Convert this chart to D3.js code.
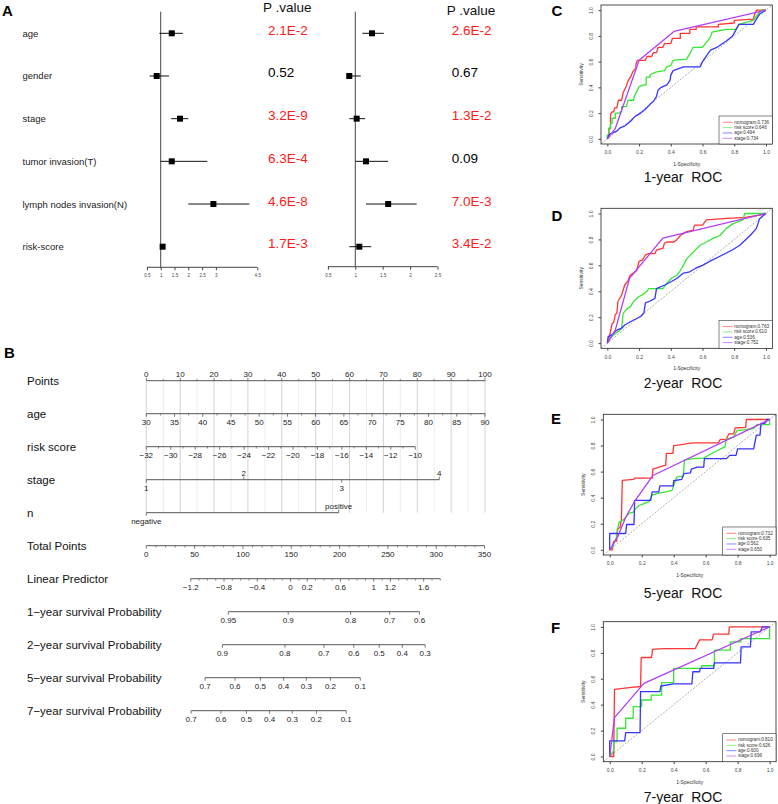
<!DOCTYPE html>
<html><head><meta charset="utf-8">
<script src="https://cdn.jsdelivr.net/npm/d3@7"></script>
<style>
body{margin:0;background:#fff}
text{font-family:"Liberation Sans",Arial,sans-serif}
</style></head>
<body><svg id="c" width="778" height="804"></svg>
<script>
// ---------------- DATA ----------------
// Panel A: forest plots
const forestVars = ["age","gender","stage","tumor invasion(T)","lymph nodes invasion(N)","risk-score"];
const uniHR = [1.40,0.855,1.70,1.40,2.91,1.07];
const uniLo = [0.95,0.60,1.38,1.00,2.00,1.00];
const uniHi = [1.80,1.30,2.00,2.69,4.21,1.13];
const uniP  = ["2.1E-2","0.52","3.2E-9","6.3E-4","4.6E-8","1.7E-3"];
const multiHR = [1.305,0.89,1.025,1.195,1.60,1.073];
const multiLo = [1.128,0.84,0.89,1.00,1.195,0.89];
const multiHi = [1.52,1.10,1.18,1.60,2.12,1.29];
const multiP  = ["2.6E-2","0.67","1.3E-2","0.09","7.0E-3","3.4E-2"];
const uniTicks = [0.5,1,1.5,2,2.5,3,4.5];
const multiTicks = [0.5,1,1.5,2,2.5];

// Panel B: nomogram
const nomoRows = ["Points","age","risk score","stage","n","Total Points","Linear Predictor",
  "1\u2212year survival Probability","2\u2212year survival Probability",
  "5\u2212year survival Probability","7\u2212year survival Probability"];
const pointTicks = d3.range(0,101,10);
const ageTicks = d3.range(30,91,5);
const ageRange = [30,90];                // age 30 -> 0 pts, 90 -> 100 pts
const riskTicks = d3.range(-32,-9,2);
const riskRange = [-32,-10];
const riskMaxPoints = 79.4;
const stageLevels = ["1","2","3","4"];
const stagePoints = [0,28.8,57.7,86.5];
const nLevels = ["negative","positive"];
const nPoints = [0,56.8];
const totalTicks = d3.range(0,351,50);
const lpTicks = [-1.2,-0.8,-0.4,0,0.2,0.6,1,1.2,1.6];
const lpRange = [-1.2,1.8];
const lpIntercept = 149.3;   // total points at linear predictor 0
const lpSlope = 86.1;        // total points per unit of linear predictor
const survTicks = [[0.95,0.9,0.8,0.7,0.6],[0.9,0.8,0.7,0.6,0.5,0.4,0.3],
                   [0.7,0.6,0.5,0.4,0.3,0.2,0.1],[0.7,0.6,0.5,0.4,0.3,0.2,0.1]];
const survLogCumHaz0 = [-2.222,-1.432,-0.004,0.165]; // log(-log S0(t))

// Panels C-F: ROC curves [1-specificity, sensitivity]
const rocSeries = ["nomogram","risk score","age","stage"];
const rocC_nomogram = [[0,0],[0.01,0.02],[0.01,0.08],[0.02,0.08],[0.02,0.19],[0.03,0.21],[0.04,0.21],[0.045,0.24],[0.06,0.24],[0.07,0.3],[0.09,0.3],[0.1,0.36],[0.12,0.41],[0.13,0.45],[0.15,0.49],[0.16,0.52],[0.18,0.55],[0.18,0.58],[0.19,0.61],[0.24,0.61],[0.25,0.64],[0.28,0.64],[0.29,0.67],[0.31,0.67],[0.32,0.71],[0.35,0.71],[0.36,0.74],[0.4,0.74],[0.41,0.78],[0.46,0.78],[0.46,0.82],[0.52,0.82],[0.52,0.85],[0.56,0.85],[0.56,0.87],[0.7,0.87],[0.7,0.89],[0.8,0.9],[0.8,0.92],[0.92,0.93],[0.93,0.97],[0.94,1],[1,1]];
const rocC_risk = [[0,0],[0,0.03],[0.01,0.03],[0.01,0.085],[0.02,0.085],[0.02,0.12],[0.03,0.12],[0.03,0.16],[0.05,0.16],[0.05,0.2],[0.08,0.2],[0.08,0.21],[0.09,0.21],[0.09,0.25],[0.12,0.25],[0.13,0.3],[0.165,0.3],[0.17,0.33],[0.19,0.38],[0.2,0.405],[0.23,0.42],[0.245,0.42],[0.245,0.48],[0.27,0.48],[0.27,0.5],[0.31,0.52],[0.36,0.53],[0.375,0.56],[0.4,0.57],[0.415,0.61],[0.5,0.62],[0.52,0.66],[0.54,0.71],[0.6,0.71],[0.65,0.79],[0.66,0.83],[0.75,0.85],[0.81,0.85],[0.83,0.89],[0.92,0.92],[0.95,0.97],[0.97,1],[1,1]];
const rocC_age = [[0,0],[0.01,0.03],[0.02,0.04],[0.06,0.06],[0.08,0.085],[0.11,0.1],[0.145,0.135],[0.175,0.175],[0.21,0.2],[0.24,0.23],[0.27,0.27],[0.29,0.29],[0.31,0.33],[0.32,0.38],[0.34,0.4],[0.375,0.42],[0.395,0.455],[0.4,0.495],[0.415,0.53],[0.48,0.56],[0.585,0.56],[0.6,0.6],[0.65,0.69],[0.69,0.71],[0.75,0.76],[0.79,0.8],[0.83,0.89],[0.92,0.89],[0.94,0.93],[0.96,0.97],[1,1]];
const rocC_stage = [[0,0],[0.05,0.08],[0.2,0.61],[0.42,0.835],[1,1]];
const rocD_nomogram = [[0,0],[0.01,0.04],[0.02,0.09],[0.03,0.15],[0.04,0.16],[0.05,0.22],[0.06,0.23],[0.067,0.325],[0.08,0.35],[0.09,0.37],[0.1,0.41],[0.11,0.45],[0.13,0.48],[0.145,0.525],[0.165,0.54],[0.185,0.56],[0.2,0.63],[0.22,0.64],[0.24,0.68],[0.26,0.69],[0.3,0.69],[0.31,0.72],[0.35,0.73],[0.36,0.77],[0.375,0.78],[0.42,0.78],[0.44,0.8],[0.46,0.83],[0.5,0.86],[0.54,0.87],[0.55,0.91],[0.6,0.91],[0.625,0.95],[0.73,0.96],[0.87,0.97],[0.97,0.99],[1,1]];
const rocD_risk = [[0,0],[0.01,0.03],[0.04,0.065],[0.07,0.09],[0.09,0.115],[0.1,0.23],[0.12,0.26],[0.145,0.28],[0.165,0.32],[0.2,0.36],[0.23,0.38],[0.25,0.4],[0.26,0.42],[0.35,0.42],[0.375,0.46],[0.405,0.5],[0.44,0.525],[0.46,0.56],[0.48,0.6],[0.5,0.65],[0.54,0.7],[0.585,0.755],[0.625,0.78],[0.67,0.81],[0.71,0.83],[0.75,0.885],[0.79,0.92],[0.855,0.95],[0.866,1],[1,1]];
const rocD_age = [[0,0],[0.005,0.05],[0.03,0.065],[0.06,0.1],[0.09,0.115],[0.11,0.14],[0.145,0.165],[0.185,0.19],[0.21,0.205],[0.23,0.23],[0.24,0.31],[0.27,0.325],[0.3,0.345],[0.31,0.42],[0.365,0.45],[0.405,0.475],[0.44,0.5],[0.48,0.54],[0.52,0.55],[0.56,0.58],[0.6,0.6],[0.645,0.63],[0.71,0.67],[0.79,0.72],[0.835,0.755],[0.9,0.83],[0.94,0.885],[0.96,0.96],[1,1]];
const rocD_stage = [[0,0],[0.05,0.1],[0.14,0.5],[0.35,0.81],[1,1]];
const rocE_nomogram = [[0,0],[0.017,0],[0.023,0.06],[0.044,0.066],[0.048,0.16],[0.064,0.17],[0.073,0.23],[0.079,0.533],[0.15,0.54],[0.155,0.55],[0.266,0.55],[0.27,0.62],[0.31,0.635],[0.35,0.65],[0.355,0.74],[0.395,0.74],[0.4,0.8],[0.44,0.806],[0.485,0.815],[0.526,0.82],[0.68,0.82],[0.69,0.845],[0.73,0.85],[0.745,0.89],[0.775,0.89],[0.785,0.935],[0.85,0.94],[0.855,1],[1,1]];
const rocE_risk = [[0,0],[0.017,0.02],[0.03,0.06],[0.044,0.1],[0.058,0.21],[0.085,0.23],[0.1,0.25],[0.12,0.28],[0.148,0.29],[0.162,0.316],[0.183,0.34],[0.214,0.355],[0.245,0.37],[0.266,0.42],[0.287,0.43],[0.35,0.444],[0.39,0.456],[0.42,0.56],[0.46,0.566],[0.468,0.69],[0.526,0.7],[0.588,0.704],[0.61,0.72],[0.67,0.76],[0.72,0.79],[0.73,0.85],[0.775,0.865],[0.796,0.915],[0.9,0.93],[0.92,0.96],[1,0.96],[1,1]];
const rocE_age = [[0,0],[0,0.125],[0.1,0.125],[0.106,0.194],[0.152,0.194],[0.156,0.38],[0.256,0.38],[0.266,0.444],[0.307,0.444],[0.314,0.49],[0.397,0.49],[0.4,0.53],[0.45,0.54],[0.464,0.584],[0.505,0.59],[0.51,0.62],[0.547,0.635],[0.588,0.635],[0.592,0.7],[0.73,0.7],[0.75,0.725],[0.79,0.725],[0.8,0.775],[0.9,0.775],[0.917,0.88],[0.94,0.88],[0.946,0.97],[0.97,0.97],[0.983,1],[1,1]];
const rocE_stage = [[0,0],[0.05,0.1],[0.1,0.25],[0.16,0.38],[0.27,0.57],[1,1]];
const rocF_nomogram = [[0,0],[0.025,0],[0.03,0.518],[0.136,0.533],[0.193,0.54],[0.197,0.764],[0.262,0.764],[0.268,0.826],[0.335,0.833],[0.535,0.833],[0.562,0.9],[0.64,0.9],[0.65,0.944],[0.745,0.944],[0.748,1],[1,1]];
const rocF_risk = [[0,0],[0.025,0.046],[0.025,0.115],[0.046,0.115],[0.046,0.218],[0.1,0.218],[0.1,0.295],[0.147,0.295],[0.147,0.385],[0.2,0.385],[0.2,0.436],[0.26,0.436],[0.26,0.474],[0.325,0.474],[0.325,0.57],[0.4,0.57],[0.4,0.68],[0.575,0.68],[0.575,0.7],[0.655,0.7],[0.655,0.82],[0.755,0.82],[0.755,0.885],[0.82,0.885],[0.82,0.91],[1,0.91],[1,1]];
const rocF_age = [[0,0],[0,0.12],[0.094,0.12],[0.1,0.185],[0.19,0.185],[0.193,0.5],[0.314,0.5],[0.32,0.544],[0.4,0.56],[0.514,0.56],[0.52,0.654],[0.562,0.654],[0.566,0.68],[0.65,0.68],[0.654,0.723],[0.818,0.723],[0.822,0.846],[0.88,0.846],[0.885,0.962],[0.943,0.962],[0.954,1],[1,1]];
const rocF_stage = [[0,0],[0.03,0.3],[0.214,0.564],[1,1]];
const aucC = ["0.736","0.646","0.494","0.734"];
const aucD = ["0.763","0.610","0.536","0.752"];
const aucE = ["0.732","0.635","0.562","0.650"];
const aucF = ["0.810","0.626","0.600","0.696"];
const rocTitles = ["1-year  ROC","2-year  ROC","5-year  ROC","7-year  ROC"];
const rocLetters = ["C","D","E","F"];
const rocTicks = [0,0.2,0.4,0.6,0.8,1.0];

// ---------------- DRAW ----------------
const svg = d3.select("#c");
const FONT = '"Liberation Sans",Arial,sans-serif';

function letter(t,x,y){
  svg.append("text").attr("x",x).attr("y",y).attr("dominant-baseline","central")
    .attr("font-size",15).attr("font-weight","bold").attr("fill","#000").text(t);
}

// ---- Panel A ----
letter("A",2,10);
const rowA = d3.scalePoint(forestVars,[33.3,246.7]);
forestVars.forEach(v=>{
  svg.append("text").attr("x",22.5).attr("y",rowA(v)).attr("dominant-baseline","central")
    .attr("font-size",9.5).attr("fill","#222").text(v);
});

function forest(xs, hr, lo, hi, pv, ticks, axisY, pX, headY){
  const g = svg.append("g");
  g.append("line").attr("x1",xs(1)).attr("x2",xs(1)).attr("y1",11.7).attr("y2",axisY)
    .attr("stroke","#444").attr("stroke-width",1);
  const ax = d3.axisBottom(xs).tickValues(ticks).tickSize(3).tickFormat(d=>String(d));
  const ga = g.append("g").attr("transform",`translate(0,${axisY})`).call(ax);
  ga.select(".domain").attr("stroke","#444").attr("d",`M${xs.range()[0]},0H${xs.range()[1]}`);
  ga.selectAll(".tick line").attr("stroke","#444");
  ga.selectAll("text").attr("font-size",4.6).attr("fill","#444").attr("font-family",FONT).attr("dy","0.9em");
  forestVars.forEach((v,i)=>{
    const y = rowA(v);
    g.append("line").attr("x1",xs(lo[i])).attr("x2",xs(hi[i])).attr("y1",y).attr("y2",y)
      .attr("stroke","#111").attr("stroke-width",1);
    g.append("rect").attr("x",xs(hr[i])-3).attr("y",y-3).attr("width",6).attr("height",6).attr("fill","#000");
    const sig = Number(pv[i])<0.05;
    g.append("text").attr("x",pX).attr("y",y-3).attr("dominant-baseline","central")
      .attr("font-size",13.5).attr("fill",sig?"#ff1a1a":"#000").text(pv[i]);
  });
  g.append("text").attr("x",pX-5).attr("y",headY).attr("dominant-baseline","central")
    .attr("font-size",13.5).attr("fill","#111").text("P .value");
}
forest(d3.scaleLinear([0.5,4.5],[146.9,257.3]),uniHR,uniLo,uniHi,uniP,uniTicks,267.3,268,7);
forest(d3.scaleLinear([0.5,2.5],[327.9,437.5]),multiHR,multiLo,multiHi,multiP,multiTicks,266.7,451.7,10);

// ---- Panel B ----
letter("B",4,352);
const ptsX = d3.scaleLinear([0,100],[146.3,485]);
const totX = d3.scaleLinear([0,350],[146.3,484.5]);
const rowY = d3.scaleLinear([0,nomoRows.length-1],[380.7,710.7]);
const gB = svg.append("g");
const lineCol = "#555", txtCol = "#222";

nomoRows.forEach((r,i)=>{
  gB.append("text").attr("x",27).attr("y",rowY(i)).attr("dominant-baseline","central")
    .attr("font-size",11.5).attr("fill","#111").text(r);
});

// vertical grid (every 5 points) from Points row down to n row
d3.range(0,101,5).forEach(p=>{
  gB.append("line").attr("x1",ptsX(p)).attr("x2",ptsX(p)).attr("y1",rowY(0)).attr("y2",rowY(4))
    .attr("stroke",p%10===0?"#d2d2d2":"#ececec").attr("stroke-width",1);
});

const fmt = v => (v<0?"\u2212":"")+String(Math.abs(+v.toFixed(3)));
function scaleRow(i, x0, x1, items, minor){
  const y = rowY(i);
  gB.append("line").attr("x1",x0).attr("x2",x1).attr("y1",y).attr("y2",y)
    .attr("stroke",lineCol).attr("stroke-width",1);
  (minor||[]).forEach(mx=>{
    gB.append("line").attr("x1",mx).attr("x2",mx).attr("y1",y).attr("y2",y+(i===0?-1.8:1.8))
      .attr("stroke",lineCol).attr("stroke-width",0.7);
  });
  items.forEach(it=>{
    const up = it.pos==="above";
    gB.append("line").attr("x1",it.x).attr("x2",it.x).attr("y1",y).attr("y2",y+(up?-3:3))
      .attr("stroke",lineCol).attr("stroke-width",0.8);
    if(it.label!==null)
      gB.append("text").attr("x",it.x).attr("y",up?y-4:y+10.8).attr("text-anchor","middle")
        .attr("font-size",8).attr("fill",txtCol).text(it.label);
  });
}
// Points
scaleRow(0, ptsX(0), ptsX(100), pointTicks.map(p=>({x:ptsX(p),label:String(p),pos:"above"})),
  d3.range(0,101,5).filter(p=>p%10).map(p=>ptsX(p)));
// age
const agePts = a => (a-ageRange[0])/(ageRange[1]-ageRange[0])*100;
scaleRow(1, ptsX(agePts(ageRange[0])), ptsX(agePts(ageRange[1])),
  ageTicks.map(a=>({x:ptsX(agePts(a)),label:String(a),pos:"below"})),
  d3.range(30,91,2.5).filter(a=>a%5).map(a=>ptsX(agePts(a))));
// risk score
const riskPts = r => (r-riskRange[0])/(riskRange[1]-riskRange[0])*riskMaxPoints;
scaleRow(2, ptsX(riskPts(riskRange[0])), ptsX(riskPts(riskRange[1])),
  riskTicks.map(r=>({x:ptsX(riskPts(r)),label:fmt(r),pos:"below"})),
  d3.range(-31,-10,2).map(r=>ptsX(riskPts(r))));
// stage
scaleRow(3, ptsX(stagePoints[0]), ptsX(d3.max(stagePoints)),
  stageLevels.map((s,k)=>({x:ptsX(stagePoints[k]),label:s,pos:k%2?"above":"below"})));
// n
scaleRow(4, ptsX(nPoints[0]), ptsX(nPoints[1]),
  nLevels.map((s,k)=>({x:ptsX(nPoints[k]),label:s,pos:k?"above":"below"})));
// Total points
scaleRow(5, totX(0), totX(350), totalTicks.map(t=>({x:totX(t),label:String(t),pos:"below"})),
  d3.range(0,351,10).filter(t=>t%50).map(t=>totX(t)));
// Linear predictor
const lpX = lp => totX(lpIntercept + lpSlope*lp);
scaleRow(6, lpX(lpRange[0]), lpX(lpRange[1]),
  lpTicks.map(l=>({x:lpX(l),label:fmt(l),pos:"below"})),
  d3.range(-12,19,1).map(k=>k/10).filter(l=>!lpTicks.some(t=>Math.abs(t-l)<1e-6)).map(lpX));
// survival probabilities
survTicks.forEach((ticks,k)=>{
  const px = p => lpX(Math.log(-Math.log(p)) - survLogCumHaz0[k]);
  const xs = ticks.map(px);
  scaleRow(7+k, d3.min(xs), d3.max(xs), ticks.map(p=>({x:px(p),label:String(p),pos:"below"})));
});

// ---- Panels C-F ----
const rocCurves = [[rocC_nomogram,rocC_risk,rocC_age,rocC_stage],[rocD_nomogram,rocD_risk,rocD_age,rocD_stage],
                   [rocE_nomogram,rocE_risk,rocE_age,rocE_stage],[rocF_nomogram,rocF_risk,rocF_age,rocF_stage]];
const rocAucs = [aucC,aucD,aucE,aucF];
const rocBoxes = [[601,5,772.3,144],[601,208.3,772.3,348.3],[603.3,414.3,776,555],[603.3,621.7,776,761.7]];
const rocTitleY = [176.7,382.7,593.3,796.7];
const rocLetterPos = [[551.5,10.5],[551.5,215],[551,418.5],[551,627]];
const rocColors = ["#ff3535","#35e635","#3535ff","#b23cf2"];

rocCurves.forEach((curves,pi)=>{
  const [l,t,r,b] = rocBoxes[pi];
  const x = d3.scaleLinear([-0.04,1.04],[l,r]);
  const y = d3.scaleLinear([-0.04,1.04],[b,t]);
  const g = svg.append("g");
  letter(rocLetters[pi], rocLetterPos[pi][0], rocLetterPos[pi][1]);
  // diagonal
  g.append("line").attr("x1",x(-0.04)).attr("y1",y(-0.04)).attr("x2",x(1.04)).attr("y2",y(1.04))
    .attr("stroke","#8a8a8a").attr("stroke-width",0.7).attr("stroke-dasharray","2,1.5");
  const line = d3.line().x(d=>x(d[0])).y(d=>y(d[1]));
  curves.forEach((c,k)=>{
    g.append("path").attr("d",line(c)).attr("fill","none").attr("stroke",rocColors[k])
      .attr("stroke-width",1.3).attr("stroke-linejoin","round");
  });
  g.append("rect").attr("x",l).attr("y",t).attr("width",r-l).attr("height",b-t)
    .attr("fill","none").attr("stroke","#222").attr("stroke-width",0.8);
  // axes
  const ax = g.append("g").attr("transform",`translate(0,${b})`)
    .call(d3.axisBottom(x).tickValues(rocTicks).tickSize(2.5).tickFormat(d3.format(".1f")));
  ax.select(".domain").remove();
  ax.selectAll("line").attr("stroke","#444");
  ax.selectAll("text").attr("font-size",5).attr("fill","#444").attr("font-family",FONT).attr("dy","0.95em");
  const ay = g.append("g").attr("transform",`translate(${l},0)`)
    .call(d3.axisLeft(y).tickValues(rocTicks).tickSize(2.5).tickFormat(d3.format(".1f")));
  ay.select(".domain").remove();
  ay.selectAll("line").attr("stroke","#444");
  ay.selectAll("text").attr("font-size",5).attr("fill","#444").attr("font-family",FONT)
    .attr("x",0).attr("dy",0).attr("text-anchor","middle")
    .attr("transform","translate(-8.5,0) rotate(-90)");
  g.append("text").attr("x",(x(0)+x(1))/2).attr("y",b+20).attr("text-anchor","middle")
    .attr("dominant-baseline","central").attr("font-size",5).attr("fill","#333").text("1-Specificity");
  g.append("text").attr("transform",`translate(${l-20.3},${(y(0)+y(1))/2}) rotate(-90)`)
    .attr("text-anchor","middle").attr("dominant-baseline","central")
    .attr("font-size",5).attr("fill","#333").text("Sensitivity");
  g.append("text").attr("x",683).attr("y",rocTitleY[pi]).attr("text-anchor","middle")
    .attr("dominant-baseline","central").attr("font-size",14).attr("fill","#111")
    .style("white-space","pre").text(rocTitles[pi]);
  // legend
  const lw = 53.3, lh = 28;
  const lg = g.append("g").attr("transform",`translate(${r-lw},${b-lh})`);
  lg.append("rect").attr("width",lw).attr("height",lh).attr("fill","#fff").attr("stroke","#333").attr("stroke-width",0.6);
  rocSeries.forEach((s,k)=>{
    const yy = 6.3 + k*5.33;
    lg.append("line").attr("x1",3.7).attr("x2",13.7).attr("y1",yy).attr("y2",yy)
      .attr("stroke",rocColors[k]).attr("stroke-width",1).attr("stroke-opacity",0.6);
    lg.append("text").attr("x",15.3).attr("y",yy).attr("dominant-baseline","central")
      .attr("font-size",4.6).attr("fill","#333").text(s+":"+rocAucs[pi][k]);
  });
});
</script></body></html>
